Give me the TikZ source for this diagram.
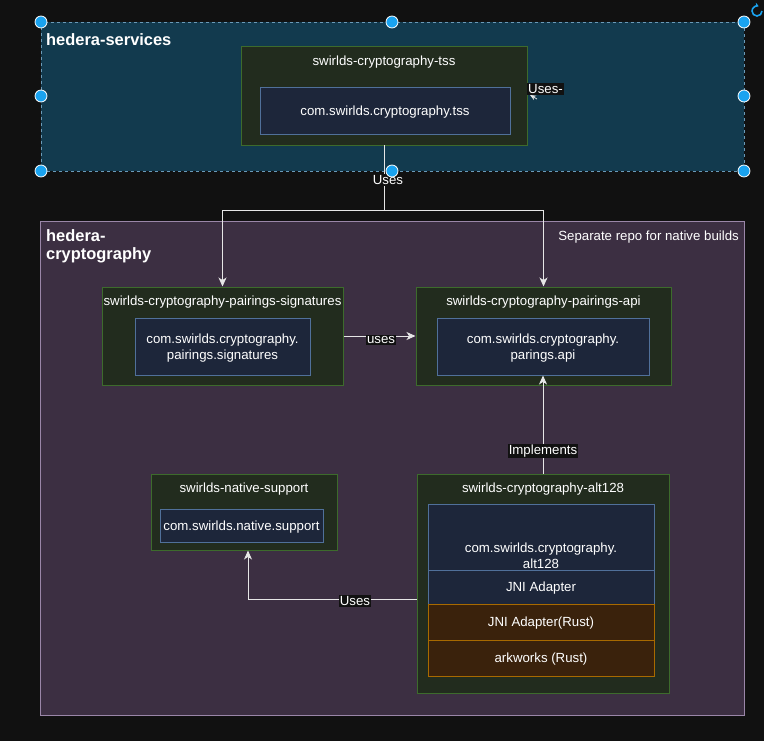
\documentclass[tikz,border=0pt]{standalone}
\usepackage{fontspec}
\setmainfont{Liberation Sans}
\usetikzlibrary{arrows.meta,positioning,calc}
\definecolor{bgc}{HTML}{111111}
\definecolor{svcfill}{HTML}{123A4E}
\definecolor{svcdraw}{HTML}{6A9AB8}
\definecolor{cryfill}{HTML}{3C2F42}
\definecolor{crydraw}{HTML}{9A86A8}
\definecolor{grfill}{HTML}{222C1E}
\definecolor{grdraw}{HTML}{3D6B2C}
\definecolor{blfill}{HTML}{1D263A}
\definecolor{bldraw}{HTML}{50709A}
\definecolor{brfill}{HTML}{3A220C}
\definecolor{brdraw}{HTML}{A86A00}
\definecolor{edgec}{HTML}{E6E6E6}
\definecolor{handle}{HTML}{1AA3F0}
\tikzset{
  x=1bp,y=-1bp,
  every node/.style={font=\fontsize{13.3}{16}\selectfont, text=white, inner sep=0pt},
  module/.style={draw=grdraw, fill=grfill, line width=1pt, rectangle},
  pkg/.style={draw=bldraw, fill=blfill, line width=1pt, rectangle, align=center},
  rust/.style={draw=brdraw, fill=brfill, line width=1pt, rectangle, align=center},
  elabel/.style={fill=bgc, inner sep=1pt},
  edge/.style={draw=edgec, line width=1pt, -{Stealth[length=9pt,width=8pt,inset=2.5pt]}},
  hdl/.style={circle, fill=handle, draw=white, line width=0.8pt, minimum size=12pt},
  grptitle/.style={font=\fontsize{16.5}{18}\selectfont\bfseries, anchor=north west, align=left},
}
\begin{document}
\begin{tikzpicture}
\fill[bgc] (0,0) rectangle (764,741);
\useasboundingbox (0,0) rectangle (764,741);

% groups
\node[draw=svcdraw, fill=svcfill, dashed, line width=0.8pt, minimum width=703bp, minimum height=149bp] (svc) at (392.5,96.5) {};
\node[grptitle] (svct) at (46,33) {hedera-services};

\node[draw=crydraw, fill=cryfill, line width=1pt, minimum width=703bp, minimum height=494bp] (cry) at (392.5,468) {};
\node[grptitle] (cryt) at (46,229) {hedera-\\cryptography};
\node[anchor=east] (note) at (739,237.5) {Separate repo for native builds};

% tss
\node[module, minimum width=286bp, minimum height=99bp] (tss) at (384,95.5) {};
\node (tsst) at (384,62.5) {swirlds-cryptography-tss};
\node[pkg, minimum width=250bp, minimum height=47bp] (tssin) at (385,110.5) {};
\node (tssintext) at (385,112) {com.swirlds.cryptography.tss};

% signatures
\node[module, minimum width=241bp, minimum height=98bp] (sig) at (222.5,336) {};
\node (sigt) at (222.5,302.5) {swirlds-cryptography-pairings-signatures};
\node[pkg, minimum width=175bp, minimum height=57bp] (sigin) at (222.5,346.5) {};
\node[align=center] (sigintext) at (222.5,348) {com.swirlds.cryptography.\\pairings.signatures};

% api
\node[module, minimum width=255bp, minimum height=98bp] (api) at (543.5,336) {};
\node (apit) at (543.5,302.5) {swirlds-cryptography-pairings-api};
\node[pkg, minimum width=212bp, minimum height=57bp] (apiin) at (543,346.5) {};
\node[align=center] (apiintext) at (543,348) {com.swirlds.cryptography.\\parings.api};

% native support
\node[module, minimum width=186bp, minimum height=76bp] (nat) at (244,512) {};
\node (natt) at (244,489.5) {swirlds-native-support};
\node[pkg, minimum width=163bp, minimum height=33bp] (natin) at (241.5,525.5) {};
\node (natintext) at (241.5,527) {com.swirlds.native.support};

% alt128
\node[module, minimum width=252bp, minimum height=219bp] (alt) at (543,583.5) {};
\node (altt) at (543,489.5) {swirlds-cryptography-alt128};
\node[pkg, minimum width=226bp, minimum height=66bp] (altin) at (541,537) {};
\node[align=center] (altintext) at (541,555.5) {com.swirlds.cryptography.\\alt128};
\node[pkg, minimum width=226bp, minimum height=34bp] (jni) at (541,587) {};
\node (jnitext) at (541,588.5) {JNI Adapter};
\node[rust, minimum width=226bp, minimum height=36bp] (jnir) at (541,622) {};
\node (jnirtext) at (541,623.5) {JNI Adapter(Rust)};
\node[rust, minimum width=226bp, minimum height=36bp] (ark) at (541,658) {};
\node (arktext) at (541,659.5) {arkworks (Rust)};

% edges
\coordinate (junc) at (384,210);
\draw[draw=edgec, line width=1pt] (tss.south) -- (junc);
\draw[edge] (junc) -| (sig.north);
\draw[edge] (junc) -| (api.north);
\node[elabel] (l1) at (388,180) {Uses};

\draw[edge] (sig.east) -- (api.west);
\node[elabel] (l2) at (381,340) {uses};

\draw[edge] (alt.north) -- (apiin.south);
\node[elabel] (l3) at (543,451) {Implements};

\coordinate (natend) at ([xshift=4bp]nat.south);
\coordinate (altleft) at ([yshift=-15.5bp]alt.west);
\draw[edge] (altleft) -| (natend);
\node[elabel] (l4) at (355,601) {Uses};

% stray label near tss
\node[elabel, anchor=west] (l5) at (527,89) {Uses-};
\coordinate (stray) at (530,95);
\draw[draw=edgec, line width=0.8pt, -{Stealth[length=6pt,width=5pt]}] ([shift={(7,4)}]stray) -- (stray);

% selection handles
\foreach \hx/\hy [count=\i] in {41/22,392/22,744/22,41/96,744/96,41/171,392/171,744/171}
  \node[hdl] (h\i) at (\hx,\hy) {};

% rotate icon
\coordinate (rot) at (757,11);
\draw[handle, line width=1.6pt, -{Stealth[length=4pt,width=5pt]}] ($(rot)+(5,0)$) arc[start angle=0, end angle=290, radius=5];
\end{tikzpicture}
\end{document}
